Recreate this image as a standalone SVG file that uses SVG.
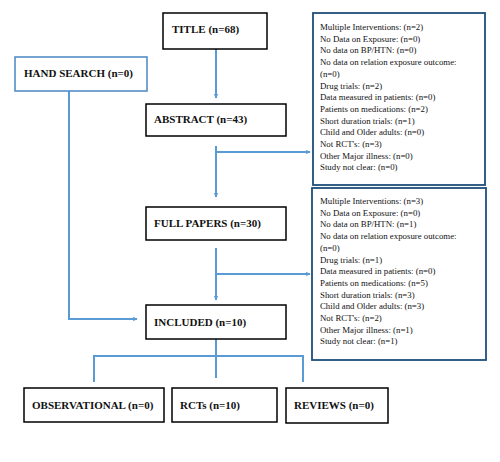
<svg xmlns="http://www.w3.org/2000/svg" width="500" height="462" viewBox="0 0 500 462">
<defs>
<marker id="ah" viewBox="0 0 10 10" refX="9" refY="5" markerWidth="5" markerHeight="5" orient="auto" markerUnits="userSpaceOnUse">
<path d="M0,0 L10,5 L0,10 L3,5 z" fill="#5b9bd5"/>
</marker>
<style>
.box{fill:#fff;stroke:#000;stroke-width:1.5}
.bbox{fill:#fff;stroke:#4a86c3;stroke-width:1.5}
.nbox{fill:#fff;stroke:#1f4e79;stroke-width:1.8}
.lbl{font-family:"Liberation Serif",serif;font-weight:bold;font-size:11px;fill:#111}
.sm{font-family:"Liberation Serif",serif;font-size:8.8px;fill:#111}
.c{fill:none;stroke:#5b9bd5;stroke-width:2}
</style>
</defs>
<rect width="500" height="462" fill="#fff"/>
<g id="connectors">
<path class="c" d="M216,49 V98" marker-end="url(#ah)"/>
<path class="c" d="M216,146 V197" marker-end="url(#ah)"/>
<path class="c" d="M216,152 H310" marker-end="url(#ah)"/>
<path class="c" d="M216,248 V300" marker-end="url(#ah)"/>
<path class="c" d="M216,274 H310" marker-end="url(#ah)"/>
<path class="c" d="M69,91 V319 H137" marker-end="url(#ah)"/>
<path class="c" d="M216,337 V378"/>
<path class="c" d="M94,382 V356 H303 V382"/>
</g>
<g id="title"><rect class="box" x="163" y="13" width="104" height="36"/><text class="lbl" x="172" y="33">TITLE (n=68)</text></g>
<g id="hand"><rect class="bbox" x="15" y="57" width="132" height="34"/><text class="lbl" x="24" y="77">HAND SEARCH (n=0)</text></g>
<g id="abstract"><rect class="box" x="146" y="104" width="140" height="32"/><text class="lbl" x="154" y="123">ABSTRACT (n=43)</text></g>
<g id="full"><rect class="box" x="146" y="207" width="140" height="33"/><text class="lbl" x="154" y="227">FULL PAPERS (n=30)</text></g>
<g id="included"><rect class="box" x="146" y="305" width="140" height="34"/><text class="lbl" x="154" y="326">INCLUDED (n=10)</text></g>
<g id="obs"><rect class="box" x="24" y="388" width="140" height="34"/><text class="lbl" x="32" y="409">OBSERVATIONAL (n=0)</text></g>
<g id="rcts"><rect class="box" x="172" y="388" width="105" height="34"/><text class="lbl" x="180" y="409">RCTs (n=10)</text></g>
<g id="reviews"><rect class="box" x="286" y="388" width="102" height="35"/><text class="lbl" x="294" y="409">REVIEWS (n=0)</text></g>
<g id="excl1"><rect class="nbox" x="313" y="13" width="172" height="172"/>
<text class="sm" x="320" y="30">
<tspan x="320" dy="0">Multiple Interventions: (n=2)</tspan>
<tspan x="320" dy="11.7">No Data on Exposure: (n=0)</tspan>
<tspan x="320" dy="11.7">No data on BP/HTN: (n=0)</tspan>
<tspan x="320" dy="11.7">No data on relation exposure outcome:</tspan>
<tspan x="320" dy="11.7">(n=0)</tspan>
<tspan x="320" dy="11.7">Drug trials: (n=2)</tspan>
<tspan x="320" dy="11.7">Data measured in patients: (n=0)</tspan>
<tspan x="320" dy="11.7">Patients on medications: (n=2)</tspan>
<tspan x="320" dy="11.7">Short duration trials: (n=1)</tspan>
<tspan x="320" dy="11.7">Child and Older adults: (n=0)</tspan>
<tspan x="320" dy="11.7">Not RCT's: (n=3)</tspan>
<tspan x="320" dy="11.7">Other Major illness: (n=0)</tspan>
<tspan x="320" dy="11.7">Study not clear: (n=0)</tspan>
</text></g>
<g id="excl2"><rect class="nbox" x="312" y="188" width="174" height="172"/>
<text class="sm" x="320" y="204">
<tspan x="320" dy="0">Multiple Interventions: (n=3)</tspan>
<tspan x="320" dy="11.7">No Data on Exposure: (n=0)</tspan>
<tspan x="320" dy="11.7">No data on BP/HTN: (n=1)</tspan>
<tspan x="320" dy="11.7">No data on relation exposure outcome:</tspan>
<tspan x="320" dy="11.7">(n=0)</tspan>
<tspan x="320" dy="11.7">Drug trials: (n=1)</tspan>
<tspan x="320" dy="11.7">Data measured in patients: (n=0)</tspan>
<tspan x="320" dy="11.7">Patients on medications: (n=5)</tspan>
<tspan x="320" dy="11.7">Short duration trials: (n=3)</tspan>
<tspan x="320" dy="11.7">Child and Older adults: (n=3)</tspan>
<tspan x="320" dy="11.7">Not RCT's: (n=2)</tspan>
<tspan x="320" dy="11.7">Other Major illness: (n=1)</tspan>
<tspan x="320" dy="11.7">Study not clear: (n=1)</tspan>
</text></g>
</svg>
